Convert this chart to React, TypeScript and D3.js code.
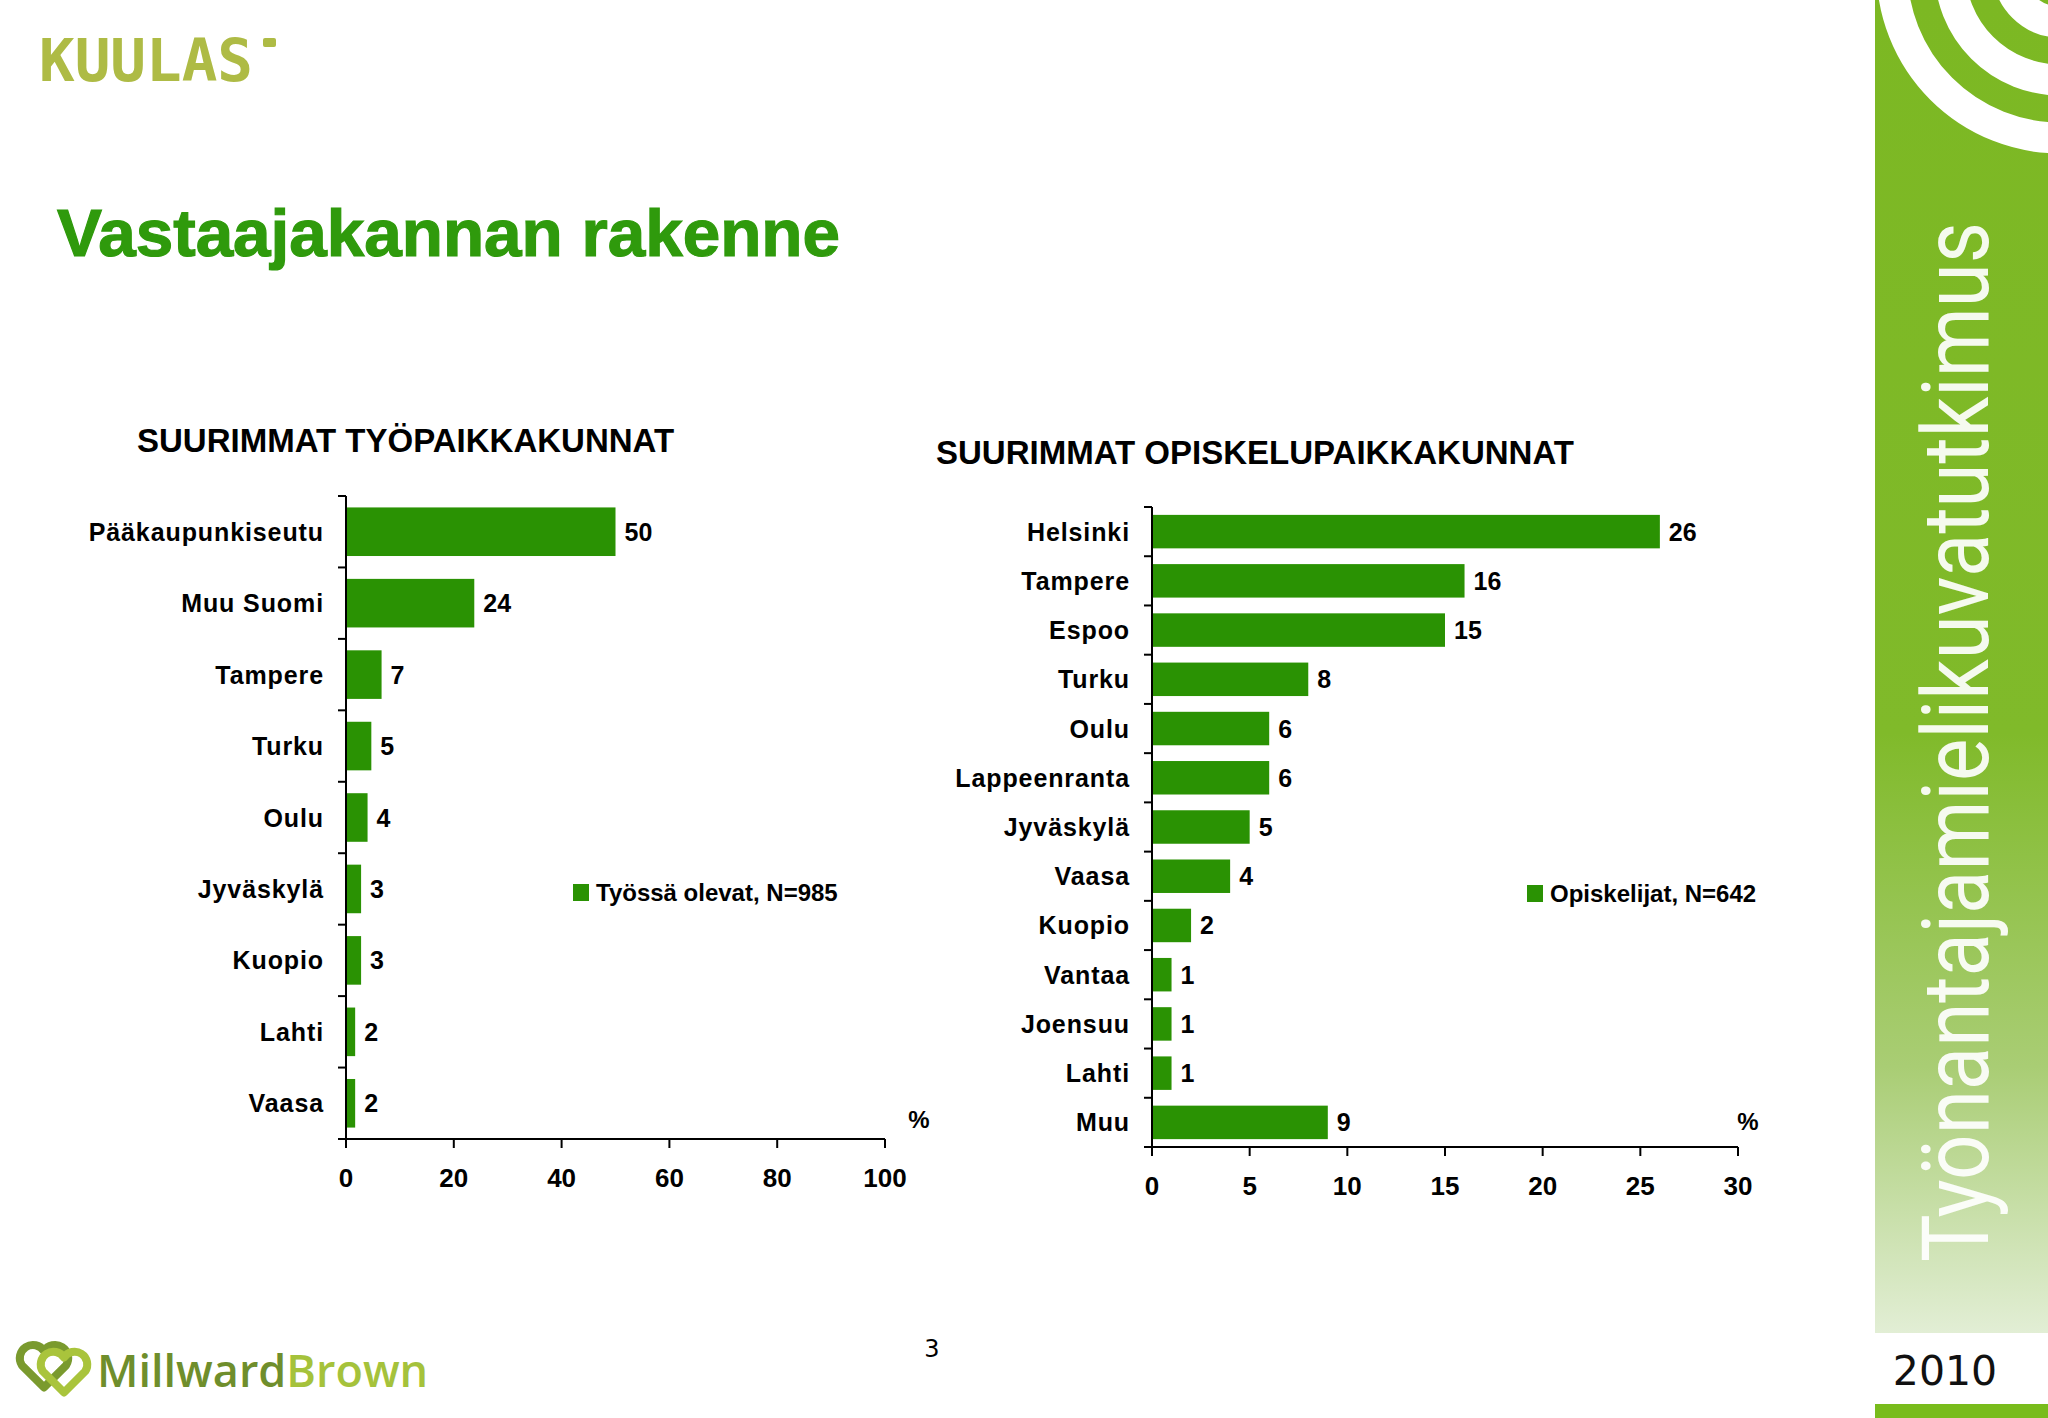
import React from 'react';
import * as d3 from 'd3';

// Työpaikkakunnat (työssä olevat)
const workCities = ['Pääkaupunkiseutu', 'Muu Suomi', 'Tampere', 'Turku', 'Oulu', 'Jyväskylä', 'Kuopio', 'Lahti', 'Vaasa'];
const workValues = [50, 23.8, 6.6, 4.7, 4.0, 2.8, 2.8, 1.7, 1.7];
const workTicks = [0, 20, 40, 60, 80, 100];

// Opiskelupaikkakunnat (opiskelijat)
const studyCities = ['Helsinki', 'Tampere', 'Espoo', 'Turku', 'Oulu', 'Lappeenranta', 'Jyväskylä', 'Vaasa', 'Kuopio', 'Vantaa', 'Joensuu', 'Lahti', 'Muu'];
const studyValues = [26, 16, 15, 8, 6, 6, 5, 4, 2, 1, 1, 1, 9];
const studyTicks = [0, 5, 10, 15, 20, 25, 30];

const BAR = '#2a9203';
const FONT = '"Liberation Sans", Arial, sans-serif';

interface ChartProps {
  title: string;
  titleX: number;
  titleY: number;
  cities: string[];
  values: number[];
  ticks: number[];
  left: number;
  right: number;
  top: number;
  bottom: number;
  tickLabelY: number;
  legend: string;
  legendX: number;
  legendY: number;
  pctX: number;
  pctY: number;
}

function HBarChart(p: ChartProps) {
  const x = d3.scaleLinear().domain([0, p.ticks[p.ticks.length - 1]]).range([p.left, p.right]);
  const y = d3.scaleBand<string>().domain(p.cities).range([p.top, p.bottom]).paddingInner(0.32).paddingOuter(0.16);
  const step = y.step();
  const fmt = d3.format('.0f');

  return (
    <g fontFamily={FONT} fontWeight="bold" fill="#000">
      <text x={p.titleX} y={p.titleY} fontSize={33}>{p.title}</text>

      {p.cities.map((c, i) => (
        <g key={c}>
          <rect x={x(0)} y={y(c)} width={x(p.values[i]) - x(0)} height={y.bandwidth()} fill={BAR} />
          <text x={x(p.values[i]) + 9} y={(y(c) as number) + y.bandwidth() / 2} dy="0.36em" fontSize={25}>
            {fmt(p.values[i])}
          </text>
          <text x={p.left - 22} y={(y(c) as number) + y.bandwidth() / 2} dy="0.36em" fontSize={25}
            textAnchor="end" letterSpacing={0.9}>
            {c}
          </text>
        </g>
      ))}

      {/* y axis */}
      <line x1={p.left} x2={p.left} y1={p.top} y2={p.bottom} stroke="#000" strokeWidth={2} />
      {d3.range(p.cities.length + 1).map(i => (
        <line key={i} x1={p.left - 8} x2={p.left} y1={p.top + i * step} y2={p.top + i * step}
          stroke="#000" strokeWidth={2} />
      ))}

      {/* x axis */}
      <line x1={p.left - 8} x2={p.right} y1={p.bottom} y2={p.bottom} stroke="#000" strokeWidth={2} />
      {p.ticks.map(t => (
        <g key={t}>
          <line x1={x(t)} x2={x(t)} y1={p.bottom} y2={p.bottom + 9} stroke="#000" strokeWidth={2} />
          <text x={x(t)} y={p.tickLabelY} fontSize={26} textAnchor="middle">{t}</text>
        </g>
      ))}

      <text x={p.pctX} y={p.pctY} fontSize={24} textAnchor="middle">%</text>

      <rect x={p.legendX} y={p.legendY} width={16} height={17} fill={BAR} />
      <text x={p.legendX + 23} y={p.legendY + 17} fontSize={24}>{p.legend}</text>
    </g>
  );
}

function heart(cx: number, cy: number, s: number) {
  return `M${cx},${cy + 0.9 * s} L${cx - 0.85 * s},${cy + 0.05 * s} A${0.5 * s},${0.5 * s} 0 0 1 ${cx},${cy - 0.5 * s} A${0.5 * s},${0.5 * s} 0 0 1 ${cx + 0.85 * s},${cy + 0.05 * s} Z`;
}

export default function App() {
  return (
    <>
      <style>{'body{margin:0}'}</style>
      <svg width={2048} height={1418} style={{ display: 'block', background: '#fff' }}>
        <defs>
          <linearGradient id="side" x1="0" y1="0" x2="0" y2="1">
            <stop offset="0" stopColor="#7cb823" />
            <stop offset="0.55" stopColor="#80ba2a" />
            <stop offset="0.8" stopColor="#a9cd74" />
            <stop offset="1" stopColor="#e2eed5" />
          </linearGradient>
          <clipPath id="sideClip">
            <rect x={1875} y={0} width={173} height={1333} />
          </clipPath>
        </defs>

        {/* logos */}
        <text x={39} y={81} fontFamily='"DejaVu Sans Mono", monospace' fontWeight="bold" fontSize={58} fill="#aebb45"
          textLength={214} lengthAdjust="spacingAndGlyphs">KUULAS</text>
        <rect x={263} y={38} width={13} height={9} rx={2} fill="#aebb45" />

        <g fill="none" strokeWidth={8} strokeLinejoin="round">
          <path d={heart(44, 1364, 26)} stroke="#7a9a2e" />
          <path d={heart(64, 1370, 25)} stroke="#a9c43c" />
        </g>
        <text x={97} y={1387} fontFamily='"Open Sans", sans-serif' fontWeight={600} fontSize={45}>
          <tspan fill="#6f8e2c">Millward</tspan><tspan fill="#a5c23b">Brown</tspan>
        </text>

        <text x={57} y={256} fontFamily={FONT} fontWeight="bold" fontSize={66} fill="#2f9a0c"
          stroke="#2f9a0c" strokeWidth={1.2} textLength={783} lengthAdjust="spacingAndGlyphs">
          Vastaajakannan rakenne
        </text>

        <HBarChart
          title="SUURIMMAT TYÖPAIKKAKUNNAT" titleX={137} titleY={452}
          cities={workCities} values={workValues} ticks={workTicks}
          left={346} right={885} top={496} bottom={1139} tickLabelY={1187}
          legend="Työssä olevat, N=985" legendX={573} legendY={884}
          pctX={919} pctY={1128}
        />
        <HBarChart
          title="SUURIMMAT OPISKELUPAIKKAKUNNAT" titleX={936} titleY={464}
          cities={studyCities} values={studyValues} ticks={studyTicks}
          left={1152} right={1738} top={507} bottom={1147} tickLabelY={1195}
          legend="Opiskelijat, N=642" legendX={1527} legendY={885}
          pctX={1748} pctY={1130}
        />

        <text x={932} y={1357} fontFamily='"DejaVu Sans", sans-serif' fontSize={24} textAnchor="middle">3</text>

        {/* side panel */}
        <rect x={1875} y={0} width={173} height={1333} fill="url(#side)" />
        <g clipPath="url(#sideClip)" fill="none" stroke="#fff" strokeWidth={31}>
          {[168, 110, 52].map(r => <circle key={r} cx={2060} cy={-30} r={r} />)}
        </g>
        <text transform="translate(1988,1262) rotate(-90)" fontFamily="Roboto, sans-serif" fontWeight={400}
          fontSize={92} fill="#fff" fillOpacity={0.92} textLength={1040} lengthAdjust="spacingAndGlyphs">
          Työnantajamielikuvatutkimus
        </text>
        <text x={1945} y={1385} fontFamily='"DejaVu Sans", sans-serif' fontSize={41} textAnchor="middle" fill="#111">
          2010
        </text>
        <rect x={1875} y={1404} width={173} height={14} fill="#79bc1c" />
      </svg>
    </>
  );
}
